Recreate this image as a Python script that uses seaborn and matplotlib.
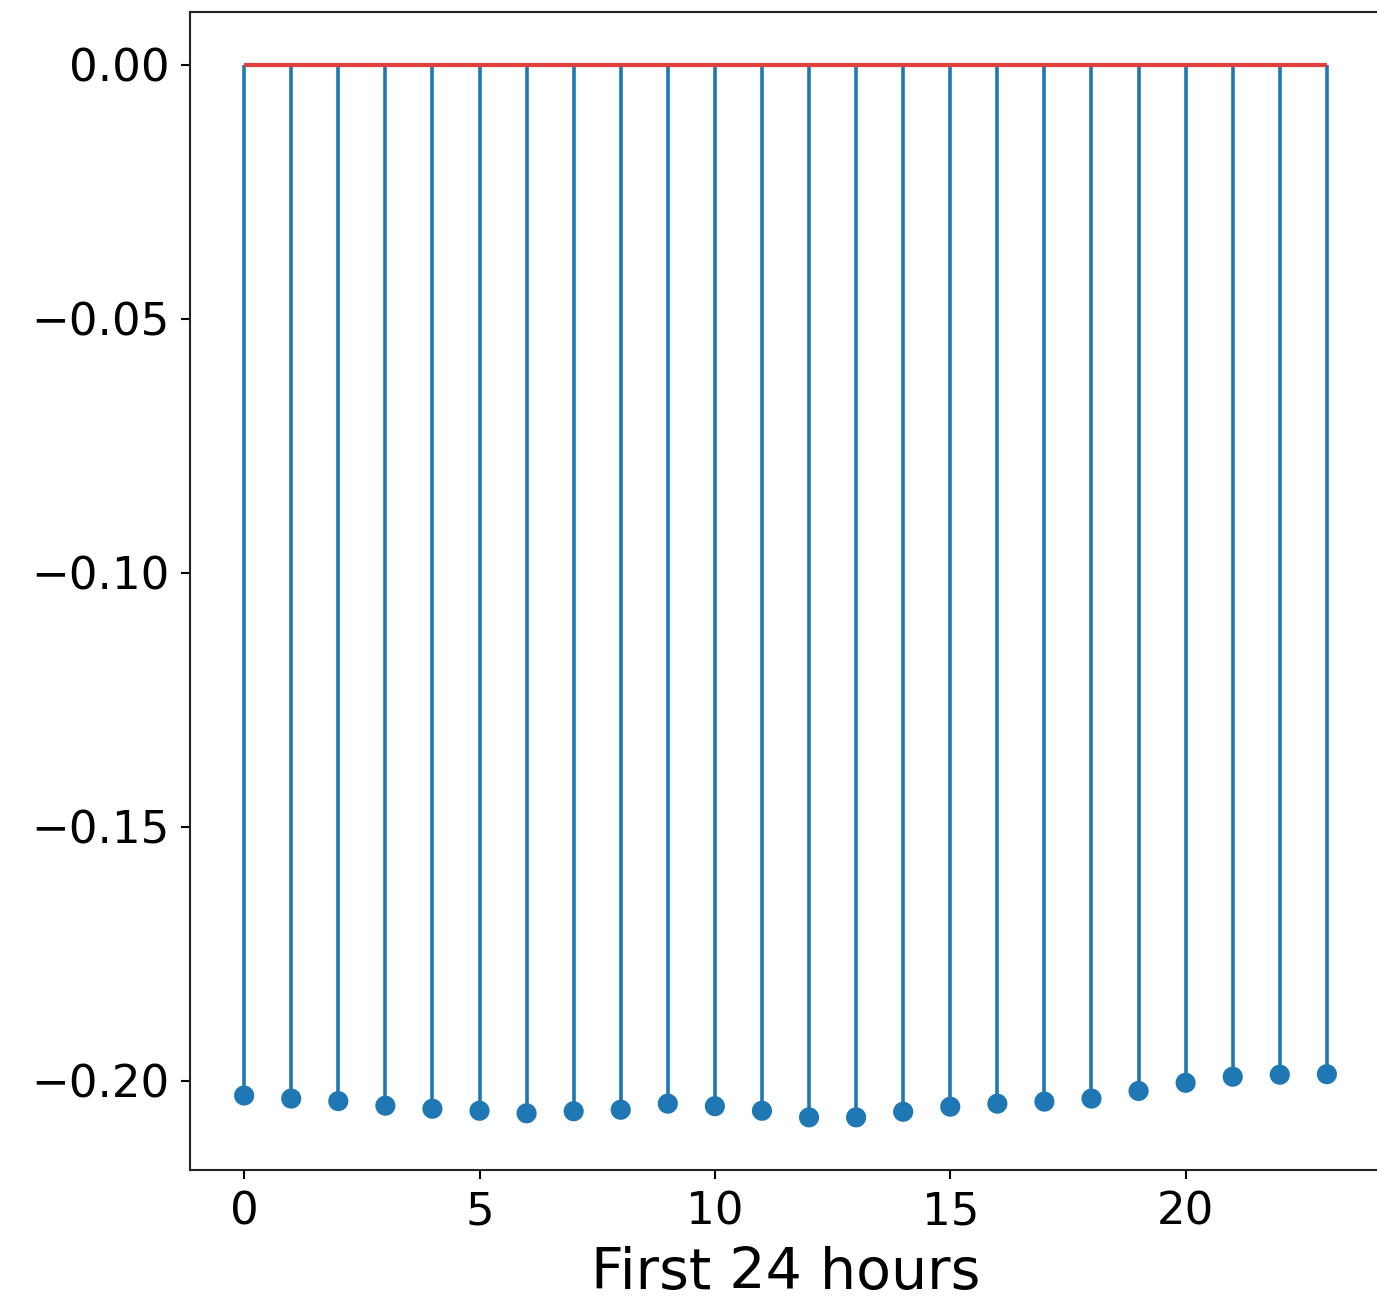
import numpy as np
import pandas as pd
import matplotlib
matplotlib.use("Agg")
import matplotlib.pyplot as plt
import seaborn as sns

# hourly values
hours = list(range(24))
values = [-0.2029, -0.2035, -0.2040, -0.2049, -0.2055, -0.2059, -0.2064, -0.2060,
          -0.2057, -0.2045, -0.2050, -0.2059, -0.2072, -0.2072, -0.2061, -0.2051,
          -0.2045, -0.2041, -0.2035, -0.2020, -0.2004, -0.1992, -0.1988, -0.1987]
ytick_vals = [0.00, -0.05, -0.10, -0.15, -0.20]
xtick_vals = [0, 5, 10, 15, 20]
xlabel = "First 24 hours"

sns.set_style("ticks")
plt.rcParams['font.family'] = ['DejaVu Sans']

df = pd.DataFrame({"hour": hours, "value": values})

fig = plt.figure(figsize=(13.77, 13.1), dpi=100)
ax = fig.add_axes([190 / 1377, 140 / 1310, 1191 / 1377, 1158 / 1310])

# stems, baseline, then markers on top
ax.vlines(df["hour"], 0, df["value"], color="C0", linewidth=2.6, zorder=2)
ax.hlines(0, df["hour"].min(), df["hour"].max(), color="#e0403c", linewidth=3.0, zorder=2.5)
sns.scatterplot(data=df, x="hour", y="value", ax=ax, color="C0", s=210,
                edgecolor="none", linewidth=0, zorder=3)

ax.set_xticks(xtick_vals)
ax.set_yticks(ytick_vals)
ax.set_yticklabels([f"{v:.2f}".replace("-", "\u2212") for v in ytick_vals])
ax.tick_params(labelsize=32.5, length=6.5, width=1.5, pad=8, colors="black")
ax.set_xlabel(xlabel, fontsize=41, labelpad=9, color="black")
ax.set_ylabel("")
for sp in ax.spines.values():
    sp.set_linewidth(1.5)
    sp.set_color("#222222")

fig.savefig("out.png", dpi=100)
plt.close()
